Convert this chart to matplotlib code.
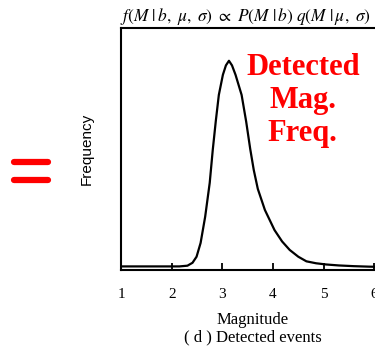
import matplotlib
matplotlib.use("Agg")
import matplotlib.pyplot as plt
from matplotlib.lines import Line2D

# detected magnitude frequency curve
magnitude = [1.0, 1.5, 2.0, 2.15, 2.31, 2.41, 2.49, 2.57, 2.66, 2.75, 2.81,
             2.87, 2.93, 3.01, 3.07, 3.13, 3.19, 3.26, 3.38, 3.47, 3.55, 3.62,
             3.70, 3.84, 4.03, 4.18, 4.33, 4.50, 4.66, 4.85, 5.05, 5.3, 5.6,
             5.9, 6.2]
frequency = [0.015, 0.015, 0.015, 0.015, 0.018, 0.03, 0.055, 0.112, 0.22, 0.36,
             0.496, 0.615, 0.723, 0.806, 0.845, 0.864, 0.845, 0.806, 0.723,
             0.613, 0.5, 0.413, 0.335, 0.248, 0.165, 0.118, 0.083, 0.055,
             0.036, 0.028, 0.023, 0.019, 0.016, 0.014, 0.013]
xticks = [1, 2, 3, 4, 5, 6]

plt.rcParams["mathtext.fontset"] = "stix"

fig = plt.figure(figsize=(3.75, 3.48), dpi=100)
ax = fig.add_axes([0.323, 0.224, 0.702, 0.696])
ax.plot(magnitude, frequency, color="black", lw=1.6)
ax.set_xlim(1, 6.2)
ax.set_ylim(0, 1)
ax.set_xticks(xticks)
ax.set_xticklabels([str(t) for t in xticks], family="Liberation Serif", fontsize=11)
ax.set_yticks([])
ax.tick_params(axis="x", direction="in", length=5, width=1.3, pad=13)
for s in ax.spines.values():
    s.set_linewidth(1.5)

ax.set_xlabel("Magnitude\n( d ) Detected events", family="Liberation Serif",
              fontsize=12, linespacing=1.1, labelpad=8)
ax.set_ylabel("Frequency", family="Liberation Sans", fontsize=11, labelpad=20)
ax.set_title(r"$f(M\ |\,b,\ \mu,\ \sigma)\ \propto\ P(M\ |\,b)\ q(M\ |\,\mu,\ \sigma)$",
             fontsize=12.5, pad=5, loc="left", x=-0.005)

ax.text(0.69, 0.70, "Detected\nMag.\nFreq.", transform=ax.transAxes, ha="center",
        va="center", color="red", family="Liberation Serif", fontweight="bold",
        fontsize=22, linespacing=1.17)

# red equals sign on the left
for yy in (0.534, 0.483):
    fig.add_artist(Line2D([0.038, 0.128], [yy, yy], color="red", lw=4.5,
                          solid_capstyle="round", transform=fig.transFigure))

fig.savefig("out.png", dpi=100)
